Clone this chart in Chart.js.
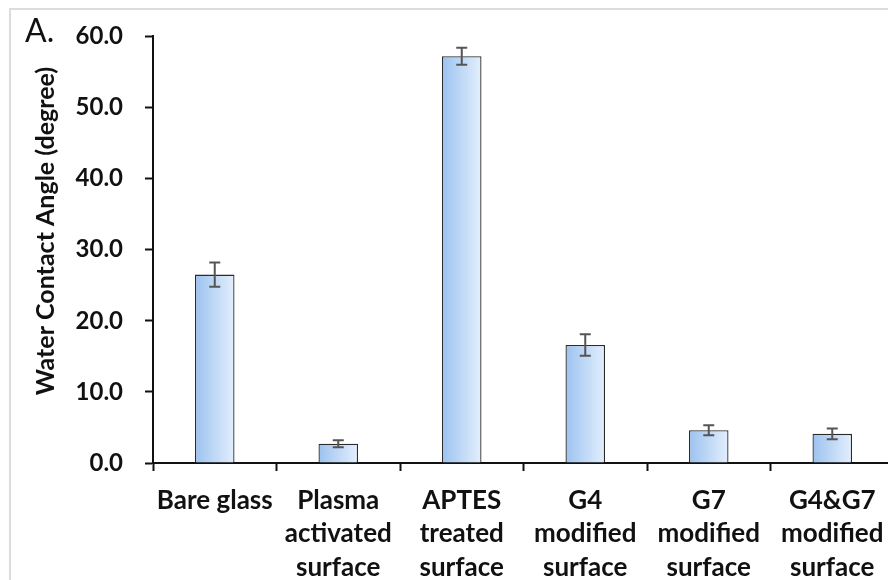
<!DOCTYPE html>
<html>
<head>
<meta charset="utf-8">
<script src="https://cdn.jsdelivr.net/npm/chart.js@4.4.1/dist/chart.umd.min.js"></script>
<style>
  html, body { margin: 0; padding: 0; background: #fff; }
  #wrap { position: relative; width: 888px; height: 580px; overflow: hidden; }
  #frame { position: absolute; left: 9px; top: 8px; width: 900px; height: 600px;
           border-left: 2px solid #dcdcdc; border-top: 2px solid #dcdcdc; }
  #panel { position: absolute; left: 25px; top: 11px; font: 32px Lato, sans-serif; color: #111; line-height: 38px; }
  canvas { position: absolute; left: 0; top: 0; }
</style>
</head>
<body>
<div id="wrap">
  <div id="frame"></div>
  <canvas id="bar-chart" width="904" height="580"></canvas>
  <div id="panel">A.</div>
</div>
<script>
const labels = [
  ["Bare glass"],
  ["Plasma", "activated", "surface"],
  ["APTES", "treated", "surface"],
  ["G4", "modified", "surface"],
  ["G7", "modified", "surface"],
  ["G4&G7", "modified", "surface"],
];
const angles = [26.5, 2.7, 57.2, 16.6, 4.6, 4.1];
const errors = [1.7, 0.5, 1.2, 1.5, 0.7, 0.75];
const yTicks = [0, 10, 20, 30, 40, 50, 60];

const FONT = "Lato, sans-serif";
const BAR_FRAC = 0.32;

// horizontal gradient on each bar, darker on the left
const barFill = (c) => {
  const chart = c.chart;
  const x = chart.scales && chart.scales.x;
  if (!x || !chart.chartArea) return "#bcd8f6";
  const cx = x.getPixelForValue(c.dataIndex);
  const half = (x.width / labels.length) * BAR_FRAC / 2;
  const g = chart.ctx.createLinearGradient(cx - half, 0, cx + half, 0);
  g.addColorStop(0, "#9cc2f0");
  g.addColorStop(1, "#e3effc");
  return g;
};

const errorBars = {
  id: "errorBars",
  afterDatasetsDraw(chart) {
    const { ctx, scales } = chart;
    const meta = chart.getDatasetMeta(0);
    ctx.save();
    ctx.strokeStyle = "#555";
    ctx.lineWidth = 2;
    meta.data.forEach((bar, i) => {
      const top = scales.y.getPixelForValue(angles[i] + errors[i]);
      const bot = scales.y.getPixelForValue(angles[i] - errors[i]);
      ctx.beginPath();
      ctx.moveTo(bar.x, top);
      ctx.lineTo(bar.x, bot);
      ctx.moveTo(bar.x - 5.5, top);
      ctx.lineTo(bar.x + 5.5, top);
      ctx.moveTo(bar.x - 5.5, bot);
      ctx.lineTo(bar.x + 5.5, bot);
      ctx.stroke();
    });
    ctx.restore();
  },
};

const yTitle = {
  id: "yTitle",
  afterDraw(chart) {
    const ctx = chart.ctx;
    ctx.save();
    ctx.translate(46, 231);
    ctx.rotate(-Math.PI / 2);
    ctx.font = "bold 25px " + FONT;
    ctx.fillStyle = "#111";
    ctx.textAlign = "center";
    ctx.textBaseline = "middle";
    ctx.fillText("Water Contact Angle (degree)", 0, 0);
    ctx.restore();
  },
};

new Chart(document.getElementById("bar-chart"), {
  type: "bar",
  data: {
    labels: labels,
    datasets: [
      {
        data: angles,
        backgroundColor: barFill,
        borderColor: "#2b2b2b",
        borderWidth: 1.3,
        barPercentage: BAR_FRAC,
        categoryPercentage: 1,
      },
    ],
  },
  plugins: [errorBars, yTitle],
  options: {
    responsive: false,
    animation: false,
    layout: { padding: { top: 36, right: 10, bottom: 0, left: 0 } },
    plugins: {
      legend: { display: false },
      tooltip: { enabled: false },
    },
    scales: {
      x: {
        afterFit: (s) => { s.height = 117; },
        grid: { drawOnChartArea: false, tickLength: 8, tickWidth: 2, tickColor: "#111", offset: true },
        border: { color: "#111", width: 2 },
        ticks: {
          color: "#111",
          padding: 13,
          maxRotation: 0,
          autoSkip: false,
          font: { family: FONT, size: 26, weight: "bold", lineHeight: 1.28 },
        },
      },
      y: {
        min: 0,
        max: 60,
        afterFit: (s) => { s.width = 153; },
        afterBuildTicks: (s) => { s.ticks = yTicks.map((v) => ({ value: v })); },
        grid: { drawOnChartArea: false, tickLength: 8, tickWidth: 2, tickColor: "#111" },
        border: { color: "#111", width: 2 },
        ticks: {
          color: "#111",
          padding: 22,
          callback: (v) => v.toFixed(1),
          font: { family: FONT, size: 24, weight: "bold" },
        },
      },
    },
  },
});
</script>
</body>
</html>
